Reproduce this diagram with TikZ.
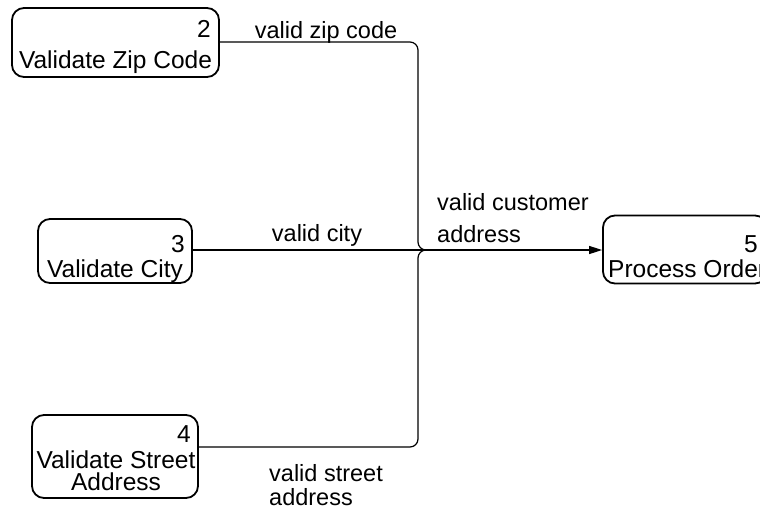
\documentclass[tikz,border=0pt]{standalone}
\usepackage{fontspec}
\setmainfont{Liberation Sans}
\usetikzlibrary{arrows.meta}
\begin{document}
\begin{tikzpicture}[x=1pt,y=-1pt,
  proc/.style={draw, line width=1.8pt, rounded corners=12pt, inner sep=0pt},
  txt/.style={inner sep=0pt, font=\fontsize{23.5}{24}\selectfont},
  btxt/.style={inner sep=0pt, font=\fontsize{24.5}{25}\selectfont},
  flow/.style={line width=1.2pt},
  lbl/.style={txt, anchor=base},
  blbl/.style={btxt, anchor=base}]
\useasboundingbox (0,0) rectangle (760,512);
\fill[white] (0,0) rectangle (760,512);
% process boxes
\node[proc, minimum width=207pt, minimum height=69pt] (b2) at (115.5,42.5) {};
\node[proc, minimum width=154pt, minimum height=64pt] (b3) at (115,251) {};
\node[proc, minimum width=166pt, minimum height=83pt] (b4) at (115,456.5) {};
\node[proc, minimum width=164pt, minimum height=68pt] (b5) at (685,249.5) {};
% box texts
\node[btxt, anchor=base east] (n2) at (211,37) {2};
\node[blbl] (t2) at (115.5,68) {Validate Zip Code};
\node[btxt, anchor=base east] (n3) at (185,252) {3};
\node[blbl] (t3) at (115,277) {Validate City};
\node[btxt, anchor=base east] (n4) at (191,442) {4};
\node[blbl] (t4a) at (116,468) {Validate Street};
\node[blbl] (t4b) at (116,490) {Address};
\node[btxt, anchor=base east] (n5) at (758,252) {5};
\node[btxt, anchor=base west] (t5) at (608,277) {Process Order};
% junction
\coordinate (j) at (418,250);
\coordinate (jr) at (432,250);
\coordinate (e4) at (b4.east |- 0,447);
% flows
\draw[flow, rounded corners=8pt] (b2.east |- 0,42) -| (j) -- (jr);
\draw[flow, rounded corners=8pt] (e4) -| (j) -- (jr);
\draw[flow, -{Triangle[length=13pt,width=8pt]}] (b3.east |- 0,250) -- (b5.west |- 0,250);
% labels
\node[lbl] (l1) at (326,38) {valid zip code};
\node[lbl] (l2) at (317,241) {valid city};
\node[txt, anchor=base west] (l3a) at (437,210) {valid customer};
\node[txt, anchor=base west] (l3b) at (437,242) {address};
\node[txt, anchor=base west] (l4a) at (269,481) {valid street};
\node[txt, anchor=base west] (l4b) at (269,505) {address};
\end{tikzpicture}
\end{document}
